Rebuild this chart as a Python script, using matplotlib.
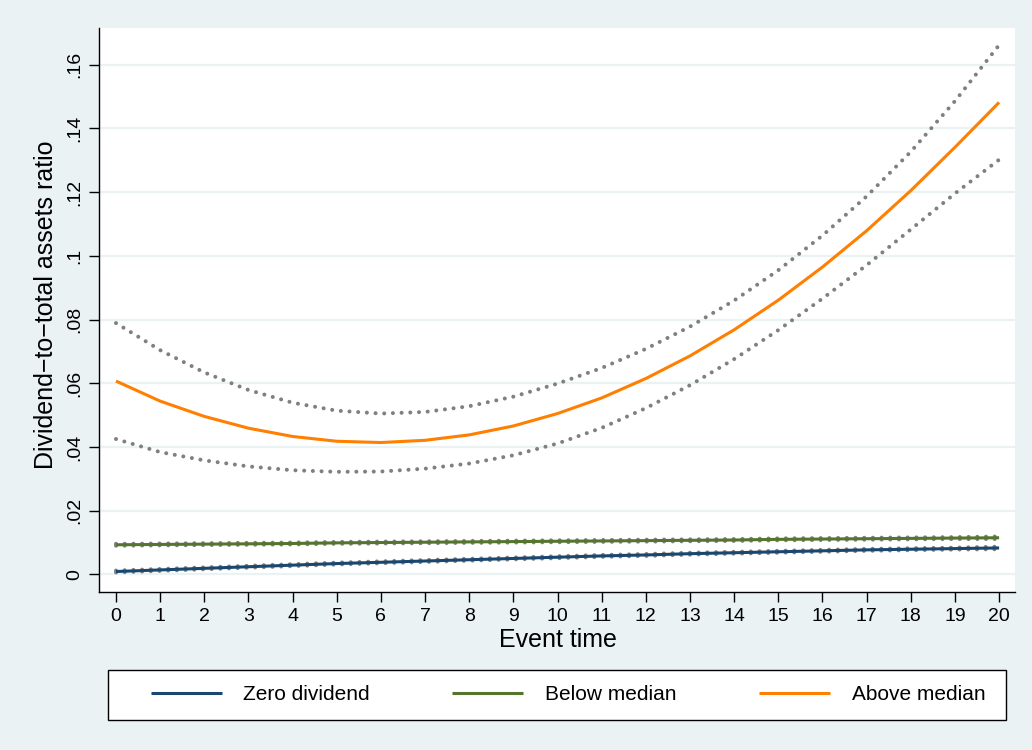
import numpy as np
import matplotlib
matplotlib.use("Agg")
import matplotlib.pyplot as plt
from matplotlib.patches import Rectangle

plt.rcParams['font.family'] = ['Liberation Sans', 'DejaVu Sans']

# event time
t = list(range(21))

# zero dividend group
zero_fit = [0.0009, 0.0014, 0.0019, 0.0024, 0.0029, 0.0034, 0.0038, 0.0042, 0.0046, 0.0050, 0.0054,
            0.0058, 0.0061, 0.0065, 0.0068, 0.0071, 0.0074, 0.0077, 0.0079, 0.0081, 0.0083]
zero_hi = [0.0012, 0.0017, 0.0022, 0.0027, 0.0032, 0.0037, 0.0041, 0.0045, 0.0049, 0.0053, 0.0057,
           0.0061, 0.0064, 0.0068, 0.0071, 0.0074, 0.0077, 0.0080, 0.0082, 0.0084, 0.0087]
zero_lo = [0.0006, 0.0011, 0.0016, 0.0021, 0.0026, 0.0031, 0.0035, 0.0039, 0.0043, 0.0047, 0.0051,
           0.0055, 0.0058, 0.0062, 0.0065, 0.0068, 0.0071, 0.0074, 0.0076, 0.0078, 0.0079]

# below median group
below_fit = [0.0093, 0.0094, 0.0095, 0.0096, 0.0097, 0.0099, 0.0100, 0.0101, 0.0102, 0.0103, 0.0104,
             0.0105, 0.0106, 0.0107, 0.0108, 0.0110, 0.0111, 0.0112, 0.0113, 0.0114, 0.0115]
below_hi = [0.0096, 0.0097, 0.0098, 0.0099, 0.0100, 0.0102, 0.0103, 0.0104, 0.0105, 0.0106, 0.0107,
            0.0108, 0.0109, 0.0110, 0.0111, 0.0113, 0.0114, 0.0115, 0.0116, 0.0117, 0.0119]
below_lo = [0.0090, 0.0091, 0.0092, 0.0093, 0.0094, 0.0096, 0.0097, 0.0098, 0.0099, 0.0100, 0.0101,
            0.0102, 0.0103, 0.0104, 0.0105, 0.0107, 0.0108, 0.0109, 0.0110, 0.0111, 0.0111]

# above median group
above_fit = [0.0607, 0.0544, 0.0496, 0.0459, 0.0433, 0.0418, 0.0414, 0.0421, 0.0438, 0.0466, 0.0505,
             0.0554, 0.0615, 0.0686, 0.0768, 0.0861, 0.0965, 0.1079, 0.1205, 0.1341, 0.1482]
above_hi = [0.0789, 0.0704, 0.0634, 0.0579, 0.0539, 0.0514, 0.0505, 0.0510, 0.0528, 0.0558, 0.0599,
            0.0648, 0.0708, 0.0778, 0.0860, 0.0955, 0.1064, 0.1187, 0.1327, 0.1486, 0.1662]
above_lo = [0.0425, 0.0384, 0.0358, 0.0339, 0.0327, 0.0322, 0.0323, 0.0332, 0.0348, 0.0374, 0.0411,
            0.0460, 0.0522, 0.0594, 0.0676, 0.0767, 0.0866, 0.0971, 0.1083, 0.1196, 0.1302]

y_ticks = [0, 0.02, 0.04, 0.06, 0.08, 0.10, 0.12, 0.14, 0.16]
y_ticklabels = ['0', '.02', '.04', '.06', '.08', '.1', '.12', '.14', '.16']

labels = ['Zero dividend', 'Below median', 'Above median']
colors = ['#1a476f', '#55752f', '#ff7f00']

bg = '#eaf2f3'
fig = plt.figure(figsize=(10.32, 7.5), dpi=100, facecolor=bg)
ax = fig.add_axes([99 / 1032, 158 / 750, 916 / 1032, 564 / 750])
ax.set_facecolor('white')

dot = dict(color='#808080', linewidth=2.9, linestyle=(0, (0.01, 2.15)),
           dash_capstyle='round', zorder=3)
for lo, hi in [(zero_lo, zero_hi), (below_lo, below_hi), (above_lo, above_hi)]:
    ax.plot(t, hi, **dot)
    ax.plot(t, lo, **dot)

handles = []
for fit, c, lab in zip([zero_fit, below_fit, above_fit], colors, labels):
    h, = ax.plot(t, fit, color=c, linewidth=2.2, label=lab, zorder=4,
                 solid_capstyle='butt', solid_joinstyle='round')
    handles.append(h)

ax.set_xlim(-0.385, 20.36)
ax.set_ylim(-0.00553, 0.17155)
ax.set_xticks(t)
ax.set_yticks(y_ticks)
ax.set_yticklabels(y_ticklabels, rotation=90, va='center')
ax.yaxis.grid(True, color=bg, linewidth=1.6, zorder=0)
ax.set_axisbelow(True)

for s in ['top', 'right']:
    ax.spines[s].set_visible(False)
for s in ['left', 'bottom']:
    ax.spines[s].set_color('black')
    ax.spines[s].set_linewidth(1.0)

ax.tick_params(axis='both', direction='out', length=7.5, width=1.0,
               labelsize=14, color='black', pad=4)

ax.set_xlabel('Event time', fontsize=18)
ax.set_ylabel('Dividend\u2212to\u2212total assets ratio', fontsize=18)
ax.xaxis.set_label_coords(0.501, -0.064)
ax.yaxis.set_label_coords(-0.045, 0.51)

# legend box
fig.patches.append(Rectangle((108 / 1032, 30 / 750), 898 / 1032, 50 / 750,
                             transform=fig.transFigure, facecolor='white',
                             edgecolor='black', linewidth=1.0, zorder=1))
fig.legend(handles=handles, loc='center', bbox_to_anchor=(568 / 1032, 55 / 750),
           ncol=3, frameon=False, fontsize=15, handlelength=3.4,
           handletextpad=1.05, columnspacing=3.95)

fig.savefig('out.png', dpi=100, facecolor=bg)
